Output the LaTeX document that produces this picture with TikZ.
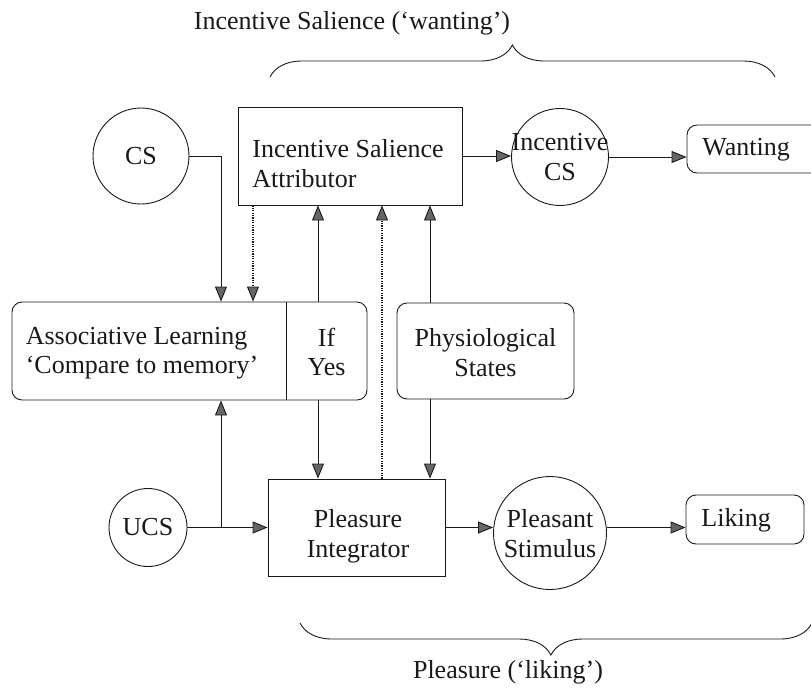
\documentclass[tikz,border=0pt]{standalone}
\usepackage{fontspec}
\setmainfont{Liberation Serif}
\usetikzlibrary{arrows.meta,decorations.pathreplacing}
\begin{document}
\begin{tikzpicture}[x=1pt,y=-1pt,
  font=\fontsize{26}{30}\selectfont,
  line width=0.9pt,
  color=black!90,
  box/.style={draw,rectangle,inner sep=0pt},
  rbox/.style={draw,rectangle,rounded corners=10pt,inner sep=0pt},
  circ/.style={draw,circle,inner sep=0pt},
  txt/.style={inner sep=0pt,align=center},
  arr/.style={-{Triangle[length=15pt,width=12pt,fill=black!60,line width=0.9pt]}},
  dots/.style={line width=1.1pt,dash pattern=on 1.2pt off 1.2pt},
  brc/.style={decorate,decoration={brace,amplitude=32pt,#1}},
]
\clip (0,0) rectangle (811,689);

% group labels
\node[txt] (wl) at (352,23) {Incentive Salience (‘wanting’)};
\node[txt] (ll) at (508,672) {Pleasure (‘liking’)};

% braces
\draw[brc={aspect=0.48}] (270,77) -- (775,77);
\draw[brc={aspect=0.49,mirror}] (300,623) -- (812,623);

% top row
\node[circ,minimum size=96pt] (cs) at (141,156) {CS};
\node[box,minimum width=224pt,minimum height=98pt] (isa) at (350,156) {};
\node[txt,align=left,anchor=west] (isa-t) at (252,164) {Incentive Salience\\Attributor};
\node[circ,minimum size=97pt] (ics) at (560,157) {};
\node[txt] (ics-t) at (ics) {Incentive\\CS};
\node[rbox,minimum width=150pt,minimum height=48pt] (want) at (762,149) {};
\node[txt,anchor=west] (want-t) at (702,150) {Wanting};

% middle row
\node[rbox,minimum width=355pt,minimum height=98pt] (al) at (189.5,351) {};
\node[txt,align=left,font=\fontsize{26}{29}\selectfont] (al-t) at (142,353) {Associative Learning\\‘Compare to memory’};
\node[txt,font=\fontsize{26}{29}\selectfont] (ify) at (326.5,352) {If\\Yes};
\coordinate (dv) at (286,351);
\draw (dv |- al.north) -- (dv |- al.south);
\node[rbox,minimum width=177pt,minimum height=96pt] (ph) at (485.5,351) {};
\node[txt] (ph-t) at (485.5,353) {Physiological\\States};

% bottom row
\node[circ,minimum size=78pt] (ucs) at (148,527.5) {UCS};
\node[box,minimum width=177pt,minimum height=97pt] (pi) at (356.5,527.5) {};
\node[txt] (pi-t) at (358,536) {Pleasure\\Integrator};
\node[circ,minimum size=113pt] (ps) at (550,533) {};
\node[txt] (ps-t) at (550,534) {Pleasant\\Stimulus};
\node[rbox,minimum width=118pt,minimum height=49pt] (lk) at (745,519.5) {};
\node[txt,anchor=west] (lk-t) at (701,520) {Liking};

% vertical connector columns
\coordinate (xa) at (221,0);
\coordinate (xb) at (253,0);
\coordinate (xc) at (318,0);
\coordinate (xd) at (382,0);
\coordinate (xe) at (430,0);

% connectors
\draw[arr] (cs.east) -| (xa |- al.north);
\draw[arr,dots] (xb |- isa.south) -- (xb |- al.north);
\draw[arr] (xc |- al.north) -- (xc |- isa.south);
\draw[arr] (xc |- al.south) -- (xc |- pi.north);
\draw[arr,dots] (xd |- pi.north) -- (xd |- isa.south);
\draw[arr] (xe |- ph.north) -- (xe |- isa.south);
\draw[arr] (xe |- ph.south) -- (xe |- pi.north);
\draw[arr] (isa.east) -- (isa.east -| ics.west);
\draw[arr] (ics) -- (ics -| want.west);
\draw[arr] (ucs.east) -- (ucs.east -| pi.west);
\draw[arr] (xa |- ucs.east) -- (xa |- al.south);
\draw[arr] (pi.east) -- (pi.east -| ps.west);
\draw[arr] (ps.east |- pi.east) -- (pi.east -| lk.west);
\end{tikzpicture}
\end{document}
